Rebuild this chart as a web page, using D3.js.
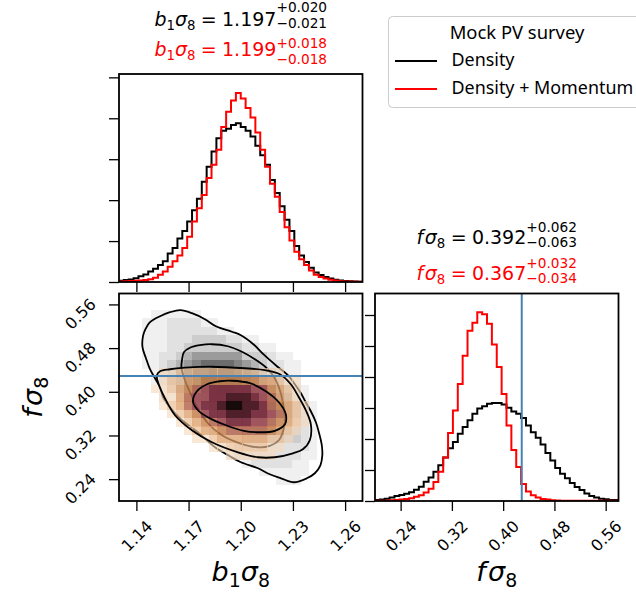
<!DOCTYPE html>
<html><head><meta charset="utf-8">
<script src="https://cdn.jsdelivr.net/npm/d3@7"></script>
<style>
body{margin:0;background:#fff}
svg{display:block}
text{font-family:"DejaVu Sans",sans-serif}
</style>
</head><body>
<svg id="c" width="636" height="595"></svg>
<script>
// ---------------- data ----------------
const b1Range = [1.13, 1.27];
const fRange = [0.2, 0.58];
const b1Ticks = [1.14, 1.17, 1.20, 1.23, 1.26];
const fTicks = [0.24, 0.32, 0.40, 0.48, 0.56];
const b1HistTicks = [0, 5, 10, 15, 20, 25];
const fHistTicks = [0, 2, 4, 6, 8, 10, 12];
const seriesNames = ["Density", "Density + Momentum"];
const legendTitle = "Mock PV survey";
const fTruth = 0.429;

// 1D marginals, 50 bins across the axis range (normalised density)
const b1Density = [0.16,0.23,0.32,0.46,0.69,0.92,1.27,1.62,2.08,2.54,3.47,4.16,5.31,6.24,7.39,8.78,10.16,12.24,14.09,15.94,17.56,18.48,18.71,19.17,19.4,18.94,18.48,17.79,16.63,15.48,14.32,12.47,10.86,9.24,7.62,6.24,4.39,3.23,2.43,1.73,1.16,0.85,0.62,0.44,0.28,0.18,0.12,0.09,0.05,0.02];
const b1Momentum = [0.07,0.09,0.12,0.14,0.18,0.25,0.35,0.53,0.88,1.27,1.85,2.54,3.23,4.16,5.54,7.39,9.01,10.63,12.71,14.32,16.17,18.94,20.79,22.18,23.1,22.41,21.25,20.1,18.25,16.17,14.09,12.01,10.4,8.55,6.7,5.08,3.7,2.77,2.08,1.39,0.9,0.62,0.42,0.28,0.18,0.09,0.07,0.05,0.02,0.02];
const fDensity = [0.06,0.1,0.15,0.22,0.32,0.39,0.47,0.57,0.73,0.92,1.24,1.52,1.89,2.31,2.8,3.41,3.81,4.34,4.78,5.21,5.63,5.96,6.11,6.28,6.32,6.32,6.23,6.02,5.78,5.63,5.35,4.87,4.44,4.08,3.65,3.1,2.62,2.13,1.76,1.46,1.16,0.91,0.71,0.49,0.33,0.22,0.15,0.11,0.07,0.06];
const fMomentum = [0.02,0.02,0.02,0.05,0.06,0.1,0.13,0.18,0.27,0.37,0.55,0.79,1.22,1.89,2.8,4.38,5.84,7.55,9.37,10.98,11.5,12.17,12.05,11.44,10.1,8.64,6.9,4.87,3.29,2.19,1.1,0.61,0.37,0.22,0.13,0.09,0.05,0.04,0.02,0.01,0.01,0.01,0.01,0.01,0.01,0.01,0.01,0.01,0.01,0.01];

// 2D histogram cells: grid origin / bin sizes in data units
const gridB1Start = 1.1291, gridB1Step = 0.004785;
const gridFTop = 0.58, gridFStep = 0.0152;
// each row (top to bottom): [first column, shade levels 1..9]
const densityRows = [
  [0, []], [0, []],
  [4, [1,1,1,1,1,1]],
  [3, [1,1,1,2,2,2,2,1,1]],
  [3, [1,1,1,2,2,2,2,2,2,1,1]],
  [3, [1,1,1,2,2,2,3,3,3,3,2,2,1,1]],
  [3, [1,1,1,2,2,3,3,3,3,3,3,3,2,2,1,1]],
  [3, [1,1,2,2,3,4,5,5,5,5,5,5,3,3,3,2,1,1]],
  [3, [1,1,2,3,4,5,6,7,7,7,7,6,5,4,3,2,2,1,1]],
  [4, [1,2,3,4,6,7,7,8,8,8,7,6,5,4,3,2,1,1]],
  [4, [1,2,3,4,6,7,8,8,8,8,8,7,6,5,4,3,2,1]],
  [5, [1,2,4,5,7,8,8,9,9,8,8,7,6,5,4,3,2,1]],
  [5, [1,1,3,4,6,7,8,8,9,9,8,8,7,6,5,4,2,1]],
  [6, [1,2,3,5,6,7,8,8,8,8,8,7,7,6,4,3,2,1]],
  [7, [1,2,4,5,6,7,7,7,7,7,7,6,5,4,3,2,1]],
  [8, [1,2,3,4,5,6,6,6,6,6,5,4,3,2,2,1]],
  [9, [1,2,3,4,4,4,5,5,5,5,4,3,3,2,1]],
  [11, [1,2,2,2,3,3,3,3,3,3,3,2,1]],
  [12, [1,1,2,2,2,2,2,2,2,2,2,1]],
  [13, [1,2,2,2,2,2,2,2,2,1,1]],
  [15, [1,2,2,2,2,2,1,1]],
  [17, [1,1,1,1,1,1]],
  [19, [1,1,1]],
  [0, []], [0, []]
];
const momentumRows = [
  [0, []], [0, []], [0, []], [0, []], [0, []], [0, []], [0, []], [0, []], [0, []],
  [5, [1,1,2,2,2,2,2,2,2,2,2,2,1,1,1]],
  [5, [1,2,2,3,3,4,4,4,4,4,4,4,3,3,2,1,1]],
  [4, [1,1,2,3,4,5,6,7,7,7,7,7,6,6,4,3,2,1]],
  [5, [1,1,3,5,6,6,7,7,8,8,8,7,6,5,3,2,1]],
  [5, [1,2,3,5,6,7,7,8,9,9,8,8,7,5,4,3,2,1]],
  [6, [1,2,3,4,6,7,7,8,8,8,7,7,6,5,3,2,1]],
  [7, [1,2,3,4,5,6,7,7,7,6,6,5,4,3,2,1]],
  [8, [1,2,3,3,4,5,5,5,5,5,4,3,2,1]],
  [9, [1,1,2,3,3,3,3,3,3,2,2,1]],
  [11, [1,1,2,2,2,2,2,1,1]],
  [13, [1,1,1,1,1,1]],
  [0, []], [0, []], [0, []], [0, []], [0, []]
];

// contours [b1sigma8, fsigma8]
const densityContour95 = [[1.1653,0.5494],[1.1719,0.5439],[1.1794,0.5329],[1.1857,0.5201],[1.1949,0.5100],[1.2001,0.5036],[1.2076,0.4862],[1.2133,0.4679],[1.2208,0.4468],[1.2271,0.4303],[1.2311,0.4138],[1.2346,0.3973],[1.2374,0.3808],[1.2403,0.3644],[1.2432,0.3442],[1.2452,0.3222],[1.2466,0.3021],[1.2469,0.2837],[1.2458,0.2654],[1.2426,0.2508],[1.2380,0.2416],[1.2305,0.2343],[1.2231,0.2416],[1.2167,0.2489],[1.2099,0.2599],[1.2001,0.2709],[1.1938,0.2819],[1.1852,0.2984],[1.1760,0.3240],[1.1656,0.3497],[1.1593,0.3717],[1.1553,0.3900],[1.1536,0.4083],[1.1507,0.4248],[1.1478,0.4413],[1.1455,0.4615],[1.1435,0.4816],[1.1438,0.5018],[1.1452,0.5146],[1.1478,0.5274],[1.1536,0.5384],[1.1593,0.5457]];
const densityContour68 = [[1.1662,0.4578],[1.1673,0.4725],[1.1708,0.4807],[1.1765,0.4853],[1.1834,0.4871],[1.1926,0.4834],[1.2007,0.4734],[1.2081,0.4596],[1.2150,0.4431],[1.2196,0.4248],[1.2225,0.4028],[1.2242,0.3808],[1.2254,0.3570],[1.2248,0.3332],[1.2219,0.3112],[1.2167,0.3011],[1.2099,0.2984],[1.1995,0.3057],[1.1892,0.3204],[1.1811,0.3424],[1.1754,0.3698],[1.1708,0.3992],[1.1673,0.4266],[1.1659,0.4450]];
const momentumContour95 = [[1.1536,0.4376],[1.1593,0.4413],[1.1679,0.4441],[1.1834,0.4459],[1.2024,0.4431],[1.2139,0.4395],[1.2225,0.4321],[1.2288,0.4138],[1.2334,0.3900],[1.2374,0.3662],[1.2403,0.3405],[1.2397,0.3112],[1.2357,0.2947],[1.2300,0.2874],[1.2196,0.2801],[1.2099,0.2801],[1.1984,0.2892],[1.1834,0.3076],[1.1719,0.3295],[1.1622,0.3570],[1.1564,0.3882],[1.1524,0.4175],[1.1518,0.4303]];
const momentumContour68 = [[1.1725,0.3827],[1.1748,0.4010],[1.1806,0.4138],[1.1880,0.4193],[1.1949,0.4202],[1.2053,0.4157],[1.2144,0.4010],[1.2219,0.3808],[1.2259,0.3589],[1.2254,0.3405],[1.2196,0.3286],[1.2110,0.3259],[1.2018,0.3286],[1.1915,0.3387],[1.1811,0.3534],[1.1754,0.3662]];

// summary statistics [value, plus, minus] for Density, Density + Momentum
const b1Summary = [["1.197","+0.020","\u22120.021"],["1.199","+0.018","\u22120.018"]];
const fSummary = [["0.392","+0.062","\u22120.063"],["0.367","+0.032","\u22120.034"]];

// ---------------- drawing ----------------
const COL = ["#000000", "#ff0000"];
const BLUE = "#4682b4";
const greyShade = ["", "#f0f0f0", "#e1e1e1", "#cdcdcd", "#b4b4b4", "#9b9b9b", "#838383", "#6c6c6c", "#565656", "#444444"];
const redShade = ["", "#f7d8bc", "#f1c094", "#e7a369", "#d48850", "#bd6b52", "#a64f58", "#7e3040", "#4e1c26", "#140808"];
const redAlpha = [0, 0.6, 0.65, 0.7, 0.75, 0.8, 0.85, 0.9, 0.95, 0.97];

const svg = d3.select("#c");
const L = 119, R = 362.5, TT = 74, TB = 282, MT = 293.5, MB = 501, RL = 375, RR = 618.5;

const xB = d3.scaleLinear().domain(b1Range).range([L, R]);
const yF = d3.scaleLinear().domain(fRange).range([MB, MT]);
const xF = d3.scaleLinear().domain(fRange).range([RL, RR]);
const yTop = d3.scaleLinear().domain([0, 1.1 * d3.max(b1Density.concat(b1Momentum))]).range([TB, TT]);
const yRight = d3.scaleLinear().domain([0, 1.1 * d3.max(fDensity.concat(fMomentum))]).range([MB, MT]);

const defs = svg.append("defs");
function clip(id, x, y, w, h) {
  defs.append("clipPath").attr("id", id).append("rect").attr("x", x).attr("y", y).attr("width", w).attr("height", h);
  return "url(#" + id + ")";
}
const clipTop = clip("ct", L, TT, R - L, TB - TT);
const clipMid = clip("cm", L, MT, R - L, MB - MT);
const clipRight = clip("cr", RL, MT, RR - RL, MB - MT);

function stepPoints(vals, range) {
  const n = vals.length, e = i => range[0] + i * (range[1] - range[0]) / n;
  const pts = [[e(0), 0]];
  vals.forEach((v, i) => pts.push([e(i), v]));
  pts.push([e(n), vals[n - 1]], [e(n), 0]);
  return pts;
}
function drawHist(g, vals, range, xs, ys, color) {
  const line = d3.line().x(d => xs(d[0])).y(d => ys(d[1])).curve(d3.curveStepAfter);
  g.append("path").attr("d", line(stepPoints(vals, range))).attr("fill", "none")
    .attr("stroke", color).attr("stroke-width", 2).attr("stroke-linejoin", "miter");
}

// top histogram
const gTop = svg.append("g").attr("clip-path", clipTop);
drawHist(gTop, b1Density, b1Range, xB, yTop, COL[0]);
drawHist(gTop, b1Momentum, b1Range, xB, yTop, COL[1]);

// right histogram
const gRight = svg.append("g").attr("clip-path", clipRight);
drawHist(gRight, fDensity, fRange, xF, yRight, COL[0]);
drawHist(gRight, fMomentum, fRange, xF, yRight, COL[1]);
gRight.append("line").attr("x1", xF(fTruth)).attr("x2", xF(fTruth)).attr("y1", MT).attr("y2", MB)
  .attr("stroke", BLUE).attr("stroke-width", 2);

// 2D panel
const gMid = svg.append("g").attr("clip-path", clipMid);
function drawCells(rows, fillFn, alphaFn) {
  rows.forEach((row, j) => {
    const [c0, levels] = row;
    levels.forEach((lv, k) => {
      if (!lv) return;
      const i = c0 + k;
      const xa = xB(gridB1Start + i * gridB1Step), xb = xB(gridB1Start + (i + 1) * gridB1Step);
      const ya = yF(gridFTop - j * gridFStep), yb = yF(gridFTop - (j + 1) * gridFStep);
      gMid.append("rect").attr("x", xa).attr("y", ya).attr("width", xb - xa + 0.3).attr("height", yb - ya + 0.3)
        .attr("fill", fillFn(lv)).attr("fill-opacity", alphaFn(lv)).attr("shape-rendering", "crispEdges");
    });
  });
}
const cline = d3.line().x(d => xB(d[0])).y(d => yF(d[1])).curve(d3.curveCatmullRomClosed.alpha(0.5));
function drawContour(pts, color, w) {
  gMid.append("path").attr("d", cline(pts)).attr("fill", "none").attr("stroke", color).attr("stroke-width", w);
}
drawCells(densityRows, lv => greyShade[lv], () => 1);
drawContour(densityContour95, "#000", 1.8);
drawContour(densityContour68, "#000", 1.8);
drawCells(momentumRows, lv => redShade[lv], lv => redAlpha[lv]);
drawContour(momentumContour95, "#000", 1.8);
drawContour(momentumContour68, "#000", 1.8);
gMid.append("line").attr("x1", L).attr("x2", R).attr("y1", yF(fTruth)).attr("y2", yF(fTruth))
  .attr("stroke", BLUE).attr("stroke-width", 2);

// frames
[[L, TT, R - L, TB - TT], [L, MT, R - L, MB - MT], [RL, MT, RR - RL, MB - MT]].forEach(r => {
  svg.append("rect").attr("x", r[0]).attr("y", r[1]).attr("width", r[2]).attr("height", r[3])
    .attr("fill", "none").attr("stroke", "#000").attr("stroke-width", 1.8);
});

// axes
function styleAxis(g) {
  g.select(".domain").remove();
  g.attr("font-family", null).attr("font-size", null);
  g.selectAll(".tick line").attr("stroke", "#000").attr("stroke-width", 1.3);
  g.selectAll(".tick text").attr("fill", "#000").attr("font-size", 16);
}
const fmt = d3.format(".2f");
styleAxis(svg.append("g").attr("transform", `translate(0,${TB})`).call(d3.axisBottom(xB).tickValues(b1Ticks).tickSize(10).tickFormat("")));
styleAxis(svg.append("g").attr("transform", `translate(${L},0)`).call(d3.axisLeft(yTop).tickValues(b1HistTicks).tickSize(10).tickFormat("")));
styleAxis(svg.append("g").attr("transform", `translate(${RL},0)`).call(d3.axisLeft(yRight).tickValues(fHistTicks).tickSize(10).tickFormat("")));
function rotBottom(g) {
  g.selectAll(".tick text").attr("y", null).attr("dy", null).attr("dominant-baseline", "central")
    .attr("text-anchor", "middle").attr("transform", "translate(0,35) rotate(-45)");
}
const gxb = svg.append("g").attr("transform", `translate(0,${MB})`).call(d3.axisBottom(xB).tickValues(b1Ticks).tickSize(10).tickFormat(fmt));
styleAxis(gxb); rotBottom(gxb);
const gxf = svg.append("g").attr("transform", `translate(0,${MB})`).call(d3.axisBottom(xF).tickValues(fTicks).tickSize(10).tickFormat(fmt));
styleAxis(gxf); rotBottom(gxf);
const gyf = svg.append("g").attr("transform", `translate(${L},0)`).call(d3.axisLeft(yF).tickValues(fTicks).tickSize(10).tickFormat(fmt));
styleAxis(gyf);
gyf.selectAll(".tick text").attr("x", null).attr("dy", null).attr("dominant-baseline", "central")
  .attr("text-anchor", "middle").attr("transform", "translate(-38.5,9) rotate(-45)");

// math text helper
function mathText(parent, pieces, size, color, supDy, subDy) {
  const g = parent.append("g").attr("fill", color);
  const small = size * 0.72;
  let x = 0;
  pieces.forEach(p => {
    x += (p.pre || 0) * size;
    if (p.stack) {
      const a = g.append("text").attr("x", x).attr("y", supDy).attr("font-size", small).text(p.stack[0]);
      const b = g.append("text").attr("x", x).attr("y", subDy).attr("font-size", small).text(p.stack[1]);
      x += Math.max(a.node().getComputedTextLength(), b.node().getComputedTextLength());
    } else {
      const t = g.append("text").attr("x", x).attr("y", p.sub ? size * 0.22 : 0)
        .attr("font-size", p.sub ? size * 0.7 : size).attr("font-style", p.it ? "italic" : null).text(p.t);
      x += t.node().getComputedTextLength();
    }
  });
  return { g, width: x };
}
const b1Sym = [{ t: "b", it: true }, { t: "1", sub: true }, { t: "\u03c3", it: true }, { t: "8", sub: true }];
const fSym = [{ t: "f", it: true }, { t: "\u03c3", it: true, pre: 0.08 }, { t: "8", sub: true }];

function title(sym, s, cx, base, color, supDy, subDy) {
  const m = mathText(svg, sym.concat([{ t: "=", pre: 0.28 }, { t: s[0], pre: 0.28 }, { stack: [s[1], s[2]] }]), 19, color, supDy, subDy);
  m.g.attr("transform", `translate(${cx - m.width / 2},${base})`);
}
title(b1Sym, b1Summary[0], (L + R) / 2, 25.5, COL[0], -13.5, 2);
title(b1Sym, b1Summary[1], (L + R) / 2, 55.5, COL[1], -7.8, 8.8);
title(fSym, fSummary[0], (RL + RR) / 2, 243.5, COL[0], -11.8, 3.4);
title(fSym, fSummary[1], (RL + RR) / 2, 280, COL[1], -11.8, 3.4);

// axis labels
const lb = mathText(svg, b1Sym, 27, "#000");
lb.g.attr("transform", `translate(${(L + R) / 2 - lb.width / 2},581)`);
const lf = mathText(svg, fSym, 27, "#000");
lf.g.attr("transform", `translate(${(RL + RR) / 2 - lf.width / 2},581)`);
const ly = mathText(svg, fSym, 27, "#000");
ly.g.attr("transform", `translate(42,${(MT + MB) / 2 + ly.width / 2}) rotate(-90)`);

// legend
const lg = svg.append("g");
lg.append("rect").attr("x", 388.5).attr("y", 16.5).attr("width", 262).attr("height", 91).attr("rx", 4)
  .attr("fill", "#fff").attr("fill-opacity", 0.8).attr("stroke", "#cccccc").attr("stroke-width", 1);
lg.append("text").attr("x", 517).attr("y", 38.5).attr("text-anchor", "middle").attr("font-size", 18.4)
  .style("font-family", "'Noto Sans', sans-serif").text(legendTitle);
seriesNames.forEach((name, i) => {
  const y = 61 + i * 28;
  lg.append("line").attr("x1", 395).attr("x2", 437).attr("y1", y).attr("y2", y).attr("stroke", COL[i]).attr("stroke-width", 2);
  lg.append("text").attr("x", 451.5).attr("y", y + 4.8).attr("font-size", 17.9)
    .style("font-family", "'Noto Sans', sans-serif").text(name);
});
</script>
</body></html>
